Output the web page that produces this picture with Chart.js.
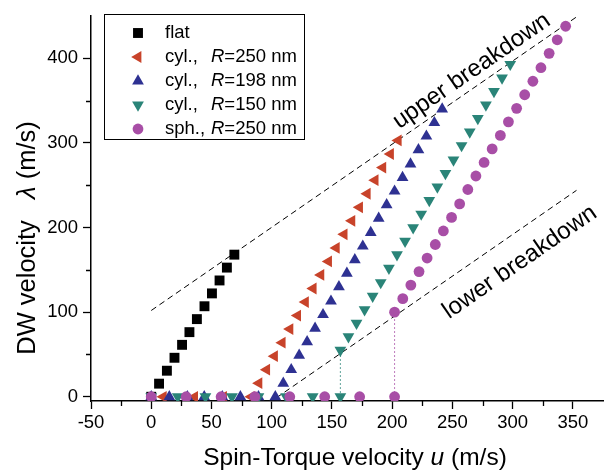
<!DOCTYPE html>
<html>
<head>
<meta charset="utf-8">
<script src="https://cdn.jsdelivr.net/npm/chart.js@4.4.0/dist/chart.umd.min.js"></script>
<style>
html, body { margin: 0; padding: 0; background: #fff; }
</style>
</head>
<body>
<canvas id="grafico" width="610" height="476"></canvas>
<script>
const FUENTE = '"Liberation Sans", Arial, sans-serif';

const xMajorTicks = [-50, 0, 50, 100, 150, 200, 250, 300, 350];
const xMinorTicks = [-25, 25, 75, 125, 175, 225, 275, 325];
const yMajorTicks = [0, 100, 200, 300, 400];
const yMinorTicks = [50, 150, 250, 350];

// flat
const flatU = [0, 6.5, 13, 19.3, 25.6, 31.7, 37.9, 44.2, 50.4, 56.7, 62.8, 69];
const flatL = [0, 15.5, 30.8, 46.1, 61.4, 76.4, 91.8, 107, 122.2, 137.5, 152.7, 168];

// cyl., R=250 nm
const cyl250U = [10, 36, 60, 83, 89.4, 95.8, 102.3, 108.7, 115.1, 121.5, 128, 134.4, 140.8, 147.2, 153.6, 160.1, 166.5, 172.9, 179.3, 185.8, 192.2, 198.6, 205];
const cyl250L = [0, 0, 0, 0, 16, 32, 48, 64, 80, 96, 112, 128, 144, 160, 176, 192, 208, 224, 240, 256, 271, 287, 303];

// cyl., R=198 nm
const cyl198U = [0, 15, 30, 44, 59, 74, 89, 103, 109.6, 116.2, 122.8, 129.4, 136, 142.6, 149.2, 155.8, 162.4, 169, 175.6, 182.2, 188.8, 195.4, 202, 208.6, 215.2, 221.8, 228.4, 235, 241.5];
const cyl198L = [0, 0, 0, 0, 0, 0, 0, 0, 16, 32, 49, 65, 81, 97, 113, 130, 146, 162, 178, 194, 211, 227, 243, 259, 275, 292, 308, 324, 340];

// cyl., R=150 nm
const cyl150U = [0, 22, 45, 67, 89, 112, 134, 157, 157, 163.7, 170.4, 177.1, 183.8, 190.5, 197.3, 204, 210.7, 217.4, 224.1, 230.8, 237.5, 244.2, 250.9, 257.6, 264.4, 271.1, 277.8, 284.5, 291.2, 298];
const cyl150L = [0, 0, 0, 0, 0, 0, 0, 0, 55, 71, 87, 103, 119, 135, 152, 168, 184, 200, 216, 232, 248, 264, 280, 297, 313, 329, 345, 361, 377, 393];

// sph., R=250 nm
const sph250U = [0, 29, 58, 86, 115, 144, 173, 202, 202, 208.8, 215.5, 222.3, 229, 235.8, 242.5, 249.3, 256, 262.8, 269.5, 276.3, 283, 289.8, 296.5, 303.3, 310, 316.8, 323.5, 330.3, 337, 344];
const sph250L = [0, 0, 0, 0, 0, 0, 0, 0, 100, 116, 132, 148, 164, 180, 196, 212, 228, 245, 261, 277, 293, 309, 325, 341, 357, 373, 389, 406, 422, 438];

// breakdown lines and drop lines
const upperU = [0, 353];
const upperL = [102, 449];
const lowerU = [97, 353];
const lowerL = [-8, 244];
const dropTealU = [157, 157];
const dropTealL = [0, 55];
const dropSphU = [202, 202];
const dropSphL = [0, 100];

const series = [
  { nombre: "flat", prefijo: "flat", r: "", u: flatU, l: flatL, color: "#000000", forma: "rect", rot: 0, radio: 7 },
  { nombre: "cyl250", prefijo: "cyl.,", r: "=250 nm", u: cyl250U, l: cyl250L, color: "#c8432a", forma: "triangle", rot: 270, radio: 6.8 },
  { nombre: "cyl198", prefijo: "cyl.,", r: "=198 nm", u: cyl198U, l: cyl198L, color: "#2e3192", forma: "triangle", rot: 0, radio: 6.8 },
  { nombre: "cyl150", prefijo: "cyl.,", r: "=150 nm", u: cyl150U, l: cyl150L, color: "#2a8478", forma: "triangle", rot: 180, radio: 6.8 },
  { nombre: "sph250", prefijo: "sph.,", r: "=250 nm", u: sph250U, l: sph250L, color: "#a84ea6", forma: "circle", rot: 0, radio: 5.4 }
];

function puntos(us, ls) {
  return us.map((u, i) => ({ x: u, y: ls[i] }));
}

function lineaDataset(us, ls, color, dash, orden) {
  return {
    data: puntos(us, ls),
    showLine: true,
    borderColor: color,
    borderWidth: 1,
    borderDash: dash,
    pointRadius: 0,
    fill: false,
    order: orden
  };
}

const datasets = [
  lineaDataset(upperU, upperL, "#000", [6, 4], 10),
  lineaDataset(lowerU, lowerL, "#000", [6, 4], 10),
  lineaDataset(dropTealU, dropTealL, "#2a8478", [1.5, 2.5], 10),
  lineaDataset(dropSphU, dropSphL, "#a84ea6", [1.5, 2.5], 10)
];

series.forEach((s, i) => {
  datasets.push({
    label: s.nombre,
    data: puntos(s.u, s.l),
    showLine: false,
    pointStyle: s.forma,
    pointRotation: s.rot,
    pointRadius: s.radio,
    pointHoverRadius: s.radio,
    backgroundColor: s.color,
    borderColor: s.color,
    borderWidth: 0,
    order: 5 - i
  });
});

function dibujarMarca(ctx, s, x, y) {
  ctx.save();
  ctx.fillStyle = s.color;
  ctx.translate(x, y);
  ctx.rotate(s.rot * Math.PI / 180);
  ctx.beginPath();
  if (s.forma === "rect") {
    const a = s.radio * Math.SQRT1_2;
    ctx.rect(-a, -a, 2 * a, 2 * a);
  } else if (s.forma === "circle") {
    ctx.arc(0, 0, s.radio, 0, Math.PI * 2);
  } else {
    for (let k = 0; k < 3; k++) {
      const ang = k * 2 * Math.PI / 3;
      ctx.lineTo(Math.sin(ang) * s.radio, -Math.cos(ang) * s.radio);
    }
    ctx.closePath();
  }
  ctx.fill();
  ctx.restore();
}

function textoMixto(ctx, partes, x, y, size) {
  let total = 0;
  partes.forEach(p => {
    ctx.font = (p.i ? "italic " : "") + size + "px " + FUENTE;
    total += ctx.measureText(p.t).width;
  });
  let cx = x - total / 2;
  ctx.textAlign = "left";
  partes.forEach(p => {
    ctx.font = (p.i ? "italic " : "") + size + "px " + FUENTE;
    ctx.fillText(p.t, cx, y);
    cx += ctx.measureText(p.t).width;
  });
}

function textoSobreLinea(chart, us, ls, u, l, texto) {
  const ctx = chart.ctx;
  const sx = chart.scales.x, sy = chart.scales.y;
  const ang = Math.atan2(sy.getPixelForValue(ls[1]) - sy.getPixelForValue(ls[0]),
                         sx.getPixelForValue(us[1]) - sx.getPixelForValue(us[0]));
  ctx.save();
  ctx.translate(sx.getPixelForValue(u), sy.getPixelForValue(l));
  ctx.rotate(ang);
  ctx.font = "24px " + FUENTE;
  ctx.fillStyle = "#000";
  ctx.textAlign = "center";
  ctx.textBaseline = "middle";
  ctx.fillText(texto, 0, 0);
  ctx.restore();
}

const extras = {
  id: "extras",
  afterDraw(chart) {
    const ctx = chart.ctx;
    const sx = chart.scales.x, sy = chart.scales.y;
    const area = chart.chartArea;

    // minor ticks
    ctx.save();
    ctx.strokeStyle = "#000";
    ctx.lineWidth = 1.3;
    ctx.beginPath();
    xMinorTicks.forEach(v => {
      const px = Math.round(sx.getPixelForValue(v)) + 0.5;
      ctx.moveTo(px, area.bottom);
      ctx.lineTo(px, area.bottom + 5);
    });
    yMinorTicks.forEach(v => {
      const py = Math.round(sy.getPixelForValue(v)) + 0.5;
      ctx.moveTo(area.left, py);
      ctx.lineTo(area.left - 5, py);
    });
    ctx.stroke();
    ctx.restore();

    // axis titles
    ctx.save();
    ctx.fillStyle = "#000";
    ctx.textBaseline = "middle";
    textoMixto(ctx, [
      { t: "Spin-Torque velocity ", i: false },
      { t: "u", i: true },
      { t: " (m/s)", i: false }
    ], 355, 458, 24.5);
    ctx.translate(28, 238);
    ctx.rotate(-Math.PI / 2);
    textoMixto(ctx, [
      { t: "DW velocity   ", i: false },
      { t: "λ", i: true },
      { t: " (m/s)", i: false }
    ], 0, 0, 25.5);
    ctx.restore();

    // breakdown labels
    textoSobreLinea(chart, upperU, upperL, 266, 385, "upper breakdown");
    textoSobreLinea(chart, lowerU, lowerL, 306, 159, "lower breakdown");

    // legend
    ctx.save();
    ctx.fillStyle = "#fff";
    ctx.fillRect(104.5, 14.5, 200, 125);
    ctx.strokeStyle = "#000";
    ctx.lineWidth = 1;
    ctx.strokeRect(104.5, 14.5, 200, 125);
    ctx.textBaseline = "middle";
    ctx.textAlign = "left";
    series.forEach((s, i) => {
      const y = 33 + i * 24;
      dibujarMarca(ctx, s, 138, y);
      ctx.fillStyle = "#000";
      ctx.font = "18.5px " + FUENTE;
      ctx.fillText(s.prefijo, 165, y);
      if (s.r) {
        ctx.font = "italic 18.5px " + FUENTE;
        ctx.fillText("R", 211, y);
        const w = ctx.measureText("R").width;
        ctx.font = "18.5px " + FUENTE;
        ctx.fillText(s.r, 211 + w, y);
      }
    });
    ctx.restore();
  }
};

new Chart(document.getElementById("grafico").getContext("2d"), {
  type: "scatter",
  data: { datasets: datasets },
  options: {
    responsive: false,
    animation: false,
    devicePixelRatio: 1,
    layout: { padding: { top: 12, right: 0, left: 0, bottom: 0 } },
    plugins: { legend: { display: false }, tooltip: { enabled: false } },
    scales: {
      x: {
        type: "linear",
        min: -50,
        max: 375,
        afterBuildTicks: s => { s.ticks = xMajorTicks.map(v => ({ value: v })); },
        afterFit: s => { s.height = 75; },
        ticks: { color: "#000", font: { family: FUENTE, size: 18.5 }, padding: 3, maxRotation: 0, autoSkip: false },
        grid: { drawOnChartArea: false, tickLength: 8, tickColor: "#000", tickWidth: 1.3 },
        border: { color: "#000", width: 1.5 }
      },
      y: {
        type: "linear",
        min: -5,
        max: 450,
        afterBuildTicks: s => { s.ticks = yMajorTicks.map(v => ({ value: v })); },
        afterFit: s => { s.width = 91; },
        ticks: { color: "#000", font: { family: FUENTE, size: 18.5 }, padding: 5, autoSkip: false },
        grid: { drawOnChartArea: false, tickLength: 8, tickColor: "#000", tickWidth: 1.3 },
        border: { color: "#000", width: 1.5 }
      }
    }
  },
  plugins: [extras]
});
</script>
</body>
</html>
